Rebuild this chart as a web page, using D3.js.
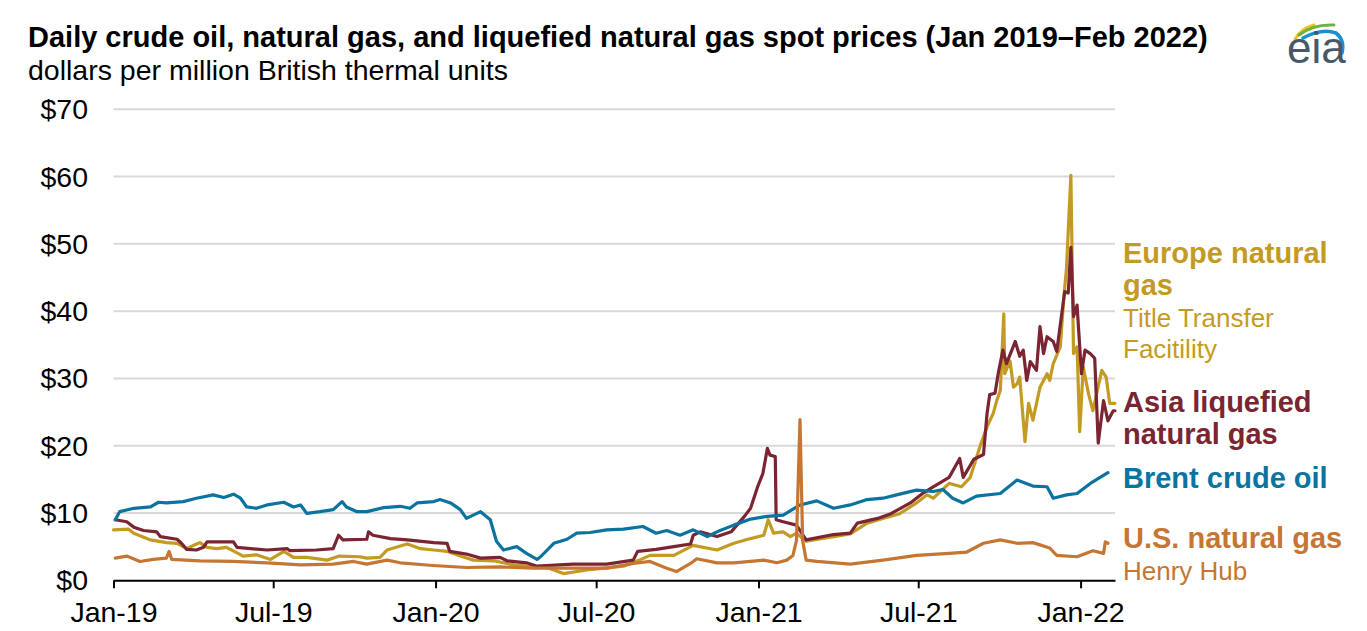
<!DOCTYPE html>
<html lang="en">
<head>
<meta charset="UTF-8">
<script src="https://d3js.org/d3.v7.min.js"></script>
<style>
  body { margin: 0; background: #fff; }
  text { font-family: "Liberation Sans", Arial, sans-serif; }
</style>
</head>
<body>
<div id="chart"></div>
<script>
// ---- data (dollars per MMBtu) ----
const europeDates = ["2019-01-01","2019-01-18","2019-01-24","2019-02-12","2019-03-02","2019-03-14","2019-03-25","2019-04-05","2019-04-09","2019-04-17","2019-04-28","2019-05-09","2019-05-28","2019-06-12","2019-06-28","2019-07-13","2019-07-24","2019-08-08","2019-08-31","2019-09-14","2019-10-07","2019-10-15","2019-10-30","2019-11-07","2019-11-22","2019-11-30","2019-12-15","2019-12-30","2020-01-14","2020-01-29","2020-02-13","2020-03-07","2020-03-30","2020-04-21","2020-05-06","2020-05-25","2020-06-24","2020-08-01","2020-08-19","2020-08-31","2020-09-27","2020-10-19","2020-11-15","2020-12-04","2020-12-23","2021-01-07","2021-01-12","2021-01-18","2021-01-29","2021-02-06","2021-02-13","2021-02-24","2021-03-27","2021-04-15","2021-05-04","2021-05-22","2021-06-10","2021-06-29","2021-07-11","2021-07-18","2021-08-05","2021-08-19","2021-08-29","2021-09-09","2021-09-17","2021-09-24","2021-09-28","2021-10-02","2021-10-06","2021-10-07","2021-10-13","2021-10-17","2021-10-21","2021-10-24","2021-10-30","2021-11-03","2021-11-08","2021-11-16","2021-11-24","2021-11-27","2021-12-01","2021-12-09","2021-12-13","2021-12-16","2021-12-21","2021-12-24","2021-12-28","2021-12-31","2022-01-04","2022-01-10","2022-01-15","2022-01-25","2022-01-30","2022-02-03","2022-02-09"];
const europeValues = [7.5,7.6,7.0,6.0,5.6,5.5,4.7,5.4,5.6,4.9,4.7,4.9,3.6,3.8,3.1,4.3,3.4,3.4,3.0,3.6,3.5,3.3,3.4,4.5,5.1,5.4,4.7,4.5,4.3,3.6,3.0,2.9,2.3,2.0,1.9,1.0,1.6,2.1,3.0,3.7,3.7,5.2,4.5,5.5,6.2,6.7,9.0,7.0,7.2,6.5,7.0,5.8,6.5,6.9,8.5,9.2,9.9,11.5,12.7,12.2,14.4,13.9,15.3,19.9,22.8,24.8,26.7,28.2,39.6,30.7,32.6,28.7,29.2,30.2,20.6,26.3,23.8,28.7,30.7,29.7,32.2,34.7,42.1,46.3,60.2,33.7,34.7,22.1,31.7,27.7,25.2,31.2,30.2,26.3,26.3];

const asiaDates = ["2019-01-03","2019-01-16","2019-01-24","2019-02-04","2019-02-19","2019-02-23","2019-03-14","2019-03-19","2019-03-25","2019-04-05","2019-04-13","2019-04-17","2019-05-17","2019-05-21","2019-06-24","2019-07-17","2019-07-20","2019-08-19","2019-09-07","2019-09-13","2019-09-18","2019-10-15","2019-10-17","2019-10-22","2019-11-11","2019-11-30","2019-12-30","2020-01-14","2020-01-17","2020-02-05","2020-02-21","2020-03-14","2020-03-22","2020-04-13","2020-04-25","2020-06-05","2020-07-13","2020-08-12","2020-08-17","2020-09-07","2020-09-27","2020-10-16","2020-10-19","2020-10-27","2020-11-15","2020-12-01","2020-12-16","2020-12-23","2020-12-31","2021-01-06","2021-01-11","2021-01-14","2021-01-20","2021-01-21","2021-01-29","2021-02-13","2021-02-24","2021-03-27","2021-04-15","2021-04-23","2021-05-16","2021-05-31","2021-06-22","2021-07-07","2021-07-18","2021-08-05","2021-08-17","2021-08-21","2021-09-02","2021-09-13","2021-09-17","2021-09-20","2021-09-26","2021-09-30","2021-10-05","2021-10-09","2021-10-19","2021-10-24","2021-10-28","2021-11-01","2021-11-05","2021-11-12","2021-11-16","2021-11-20","2021-11-24","2021-12-01","2021-12-05","2021-12-14","2021-12-18","2021-12-21","2021-12-24","2021-12-28","2022-01-02","2022-01-06","2022-01-12","2022-01-17","2022-01-21","2022-01-27","2022-02-01","2022-02-07","2022-02-09"];
const asiaValues = [9.0,8.7,7.9,7.4,7.2,6.5,6.1,5.5,4.6,4.5,4.9,5.7,5.7,4.9,4.5,4.7,4.4,4.5,4.7,6.7,6.0,6.1,7.2,6.7,6.2,6.0,5.6,5.5,4.3,3.9,3.3,3.4,2.9,2.6,2.1,2.4,2.4,3.0,4.3,4.6,5.0,5.4,6.7,7.2,6.5,7.2,9.5,10.7,13.9,15.9,19.6,18.6,18.4,9.0,8.7,8.2,6.0,6.8,7.0,8.5,9.2,9.9,11.5,13.0,13.9,15.3,18.1,15.3,18.0,18.7,24.8,27.6,27.8,31.0,34.2,32.2,35.5,33.3,34.2,29.7,32.5,31.2,37.7,33.7,36.2,35.5,34.0,42.9,42.7,49.5,39.2,40.9,30.7,34.2,33.7,33.0,20.4,26.7,23.7,25.2,25.2];

const brentDates = ["2019-01-03","2019-01-08","2019-01-24","2019-02-12","2019-02-21","2019-03-02","2019-03-21","2019-04-05","2019-04-24","2019-05-06","2019-05-17","2019-05-25","2019-06-01","2019-06-12","2019-06-24","2019-07-13","2019-07-24","2019-08-01","2019-08-08","2019-08-23","2019-09-07","2019-09-17","2019-09-22","2019-10-04","2019-10-15","2019-11-03","2019-11-22","2019-12-03","2019-12-11","2019-12-30","2020-01-06","2020-01-18","2020-01-29","2020-02-05","2020-02-21","2020-03-03","2020-03-10","2020-03-18","2020-04-02","2020-04-13","2020-04-25","2020-04-29","2020-05-14","2020-05-29","2020-06-09","2020-06-24","2020-07-13","2020-08-01","2020-08-23","2020-09-07","2020-09-19","2020-10-04","2020-10-19","2020-11-04","2020-11-15","2020-12-04","2020-12-23","2021-01-11","2021-01-29","2021-02-17","2021-03-08","2021-03-27","2021-04-15","2021-05-04","2021-05-22","2021-06-10","2021-06-29","2021-07-18","2021-07-29","2021-08-09","2021-08-21","2021-09-05","2021-10-02","2021-10-21","2021-11-08","2021-11-24","2021-12-01","2021-12-16","2021-12-28","2022-01-12","2022-02-01"];
const brentValues = [9.0,10.2,10.7,10.9,11.6,11.5,11.7,12.2,12.7,12.3,12.8,12.2,10.9,10.7,11.2,11.6,10.9,11.2,9.95,10.2,10.5,11.7,10.9,10.2,10.2,10.8,11.0,10.7,11.5,11.7,12.0,11.5,10.5,9.2,10.2,9.0,5.8,4.5,5.0,4.0,3.1,3.5,5.5,6.1,7.0,7.1,7.5,7.6,8.0,7.0,7.4,6.7,7.5,6.5,7.2,8.2,9.1,9.5,9.7,11.2,11.8,10.7,11.2,12.0,12.2,12.8,13.4,13.2,13.5,12.2,11.5,12.5,12.9,14.9,14.0,13.9,12.2,12.7,12.9,14.4,16.0];

const henryDates = ["2019-01-03","2019-01-16","2019-01-31","2019-02-15","2019-03-02","2019-03-05","2019-03-08","2019-04-09","2019-05-17","2019-06-24","2019-08-01","2019-09-07","2019-09-30","2019-10-15","2019-11-07","2019-11-22","2019-12-29","2020-02-05","2020-03-14","2020-04-21","2020-06-05","2020-07-13","2020-08-12","2020-08-31","2020-09-19","2020-09-30","2020-10-16","2020-10-23","2020-11-15","2020-12-04","2020-12-23","2021-01-07","2021-01-22","2021-02-02","2021-02-09","2021-02-13","2021-02-17","2021-02-20","2021-02-24","2021-03-08","2021-04-15","2021-05-22","2021-06-29","2021-08-05","2021-08-25","2021-09-13","2021-10-02","2021-10-21","2021-11-08","2021-11-27","2021-12-05","2021-12-28","2022-01-15","2022-01-27","2022-01-29","2022-02-01"];
const henryValues = [3.3,3.6,2.8,3.1,3.3,4.3,3.1,2.9,2.8,2.6,2.3,2.4,2.8,2.4,3.0,2.6,2.2,1.9,2.0,1.8,1.8,1.8,2.5,2.8,1.8,1.3,2.5,3.2,2.6,2.6,2.8,3.0,2.6,3.0,3.7,5.9,23.9,5.9,3.0,2.8,2.4,3.0,3.7,4.0,4.2,5.5,6.0,5.5,5.6,4.8,3.7,3.5,4.4,4.0,5.7,5.5];

const yTicks = [0, 10, 20, 30, 40, 50, 60, 70];
const xTickDates = ["2019-01-01","2019-07-01","2020-01-01","2020-07-01","2021-01-01","2021-07-01","2022-01-01"];

const colors = {
  europe: "#c49b22",
  asia: "#7b2533",
  brent: "#0b73a0",
  henry: "#c67633"
};

const parse = d3.timeParse("%Y-%m-%d");
const W = 1367, H = 631;

const svg = d3.select("#chart").append("svg")
  .attr("width", W)
  .attr("height", H);

const x = d3.scaleTime()
  .domain([parse("2019-01-01"), parse("2022-02-09")])
  .range([113.5, 1115]);

const y = d3.scaleLinear()
  .domain([0, 70])
  .range([580.3, 109.3]);

// title + units
svg.append("text")
  .attr("x", 28).attr("y", 47)
  .attr("font-size", 29).attr("font-weight", "bold")
  .text("Daily crude oil, natural gas, and liquefied natural gas spot prices (Jan 2019\u2013Feb 2022)");

svg.append("text")
  .attr("x", 28).attr("y", 80)
  .attr("font-size", 28.5)
  .text("dollars per million British thermal units");

// eia logo
const logo = svg.append("g");
logo.append("path").attr("d", "M1295,39 Q1302,28 1314,25")
  .attr("fill", "none").attr("stroke", "#f2c318").attr("stroke-width", 3).attr("stroke-linecap", "round");
logo.append("path").attr("d", "M1299,35 Q1313,24 1334,25")
  .attr("fill", "none").attr("stroke", "#6db33f").attr("stroke-width", 3).attr("stroke-linecap", "round");
logo.append("path").attr("d", "M1303,38 Q1322,28 1336,33 Q1345,40 1342,53")
  .attr("fill", "none").attr("stroke", "#1a8fd1").attr("stroke-width", 3.5).attr("stroke-linecap", "round");
logo.append("text")
  .attr("x", 1287).attr("y", 63)
  .attr("font-size", 44)
  .attr("font-family", "Liberation Serif, serif")
  .attr("fill", "#46596b")
  .text("eia");

// gridlines
svg.append("g")
  .selectAll("line")
  .data(yTicks.filter(d => d > 0))
  .join("line")
  .attr("x1", x.range()[0]).attr("x2", x.range()[1])
  .attr("y1", d => y(d)).attr("y2", d => y(d))
  .attr("stroke", "#d9d9d9")
  .attr("stroke-width", 2);

// y labels
svg.append("g")
  .selectAll("text")
  .data(yTicks)
  .join("text")
  .attr("x", 88)
  .attr("y", d => y(d))
  .attr("dy", "0.35em")
  .attr("text-anchor", "end")
  .attr("font-size", 28.5)
  .text(d => "$" + d);

// x axis
const xAxis = d3.axisBottom(x)
  .tickValues(xTickDates.map(parse))
  .tickFormat(d3.timeFormat("%b-%y"))
  .tickSize(8)
  .tickSizeOuter(0)
  .tickPadding(13);

const gx = svg.append("g")
  .attr("transform", `translate(0,${y(0)})`)
  .call(xAxis);
gx.select(".domain").attr("stroke", "#000").attr("stroke-width", 2);
gx.selectAll(".tick line").attr("stroke", "#000").attr("stroke-width", 2);
gx.selectAll(".tick text")
  .attr("font-size", 28.5)
  .attr("font-family", "Liberation Sans, Arial, sans-serif")
  .attr("fill", "#000");

// lines
const line = d3.line()
  .x(d => x(d.date))
  .y(d => y(d.value));

const series = [
  { key: "europe", dates: europeDates, values: europeValues },
  { key: "asia", dates: asiaDates, values: asiaValues },
  { key: "brent", dates: brentDates, values: brentValues },
  { key: "henry", dates: henryDates, values: henryValues }
];

svg.append("g")
  .selectAll("path")
  .data(series)
  .join("path")
  .attr("d", s => line(s.dates.map((d, i) => ({ date: parse(d), value: s.values[i] }))))
  .attr("fill", "none")
  .attr("stroke", s => colors[s.key])
  .attr("stroke-width", 3.2)
  .attr("stroke-linejoin", "round")
  .attr("stroke-linecap", "round");

// right-hand labels
const labels = [
  { text: "Europe natural", y: 263, bold: true, c: colors.europe },
  { text: "gas", y: 295, bold: true, c: colors.europe },
  { text: "Title Transfer", y: 327, bold: false, c: colors.europe },
  { text: "Facitility", y: 358, bold: false, c: colors.europe },
  { text: "Asia liquefied", y: 412, bold: true, c: colors.asia },
  { text: "natural gas", y: 444, bold: true, c: colors.asia },
  { text: "Brent crude oil", y: 488, bold: true, c: colors.brent },
  { text: "U.S. natural gas", y: 548, bold: true, c: colors.henry },
  { text: "Henry Hub", y: 580, bold: false, c: colors.henry }
];

svg.append("g")
  .selectAll("text")
  .data(labels)
  .join("text")
  .attr("x", 1123)
  .attr("y", d => d.y)
  .attr("font-size", d => d.bold ? 29 : 26)
  .attr("font-weight", d => d.bold ? "bold" : "normal")
  .attr("fill", d => d.c)
  .text(d => d.text);
</script>
</body>
</html>
